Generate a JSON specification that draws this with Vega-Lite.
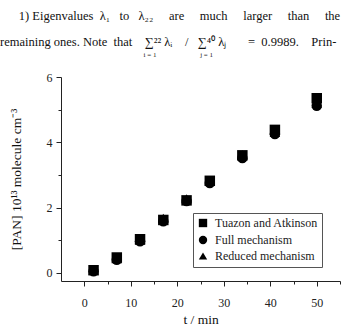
{
  "$schema": "https://vega.github.io/schema/vega-lite/v6.json",
  "width": 279,
  "height": 204,
  "autosize": {"type": "none"},
  "padding": {"left": 61, "top": 77, "right": 4, "bottom": 46},
  "background": "white",
  "title": {
    "text": [
      "\u200b\u00a0\u00a0\u00a0\u00a0\u00a0\u00a01)\u00a0Eigenvalues\u00a0\u00a0λ\u2081\u00a0\u00a0\u00a0to\u00a0\u00a0\u00a0λ\u2082\u2082\u00a0\u00a0\u00a0\u00a0\u00a0are\u00a0\u00a0\u00a0\u00a0\u00a0much\u00a0\u00a0\u00a0\u00a0\u00a0larger\u00a0\u00a0\u00a0\u00a0\u00a0than\u00a0\u00a0\u00a0\u00a0\u00a0the",
      "remaining\u00a0ones.\u00a0Note\u00a0\u00a0that\u00a0\u00a0\u00a0\u00a0∑\u00b2\u00b2\u00a0λ\u1d62\u00a0\u00a0\u00a0\u00a0/\u00a0\u00a0\u00a0∑\u2074\u2070\u00a0λ\u2c7c\u00a0\u00a0\u00a0\u00a0\u00a0\u00a0\u00a0=\u00a0\u00a00.9989.\u00a0\u00a0\u00a0\u00a0Prin-"
    ],
    "subtitle": "\u200b\u2003\u2003\u2003\u2003\u2003\u2003\u2003\u2003\u2003\u2003\u2003\u2003\u2003\u2003\u2003\u2003\u2003\u2003\u2003\u2003\u00a0\u00a0i = 1\u2003\u2003\u2003\u2003\u2003\u2003\u00a0j = 1",
    "anchor": "start",
    "frame": "bounds",
    "font": "Liberation Serif",
    "fontSize": 12.5,
    "fontWeight": "normal",
    "color": "#111",
    "lineHeight": 26,
    "subtitleFont": "Liberation Serif",
    "subtitleFontSize": 7,
    "subtitleLineHeight": 8,
    "subtitlePadding": 3,
    "subtitleColor": "#222",
    "offset": 13,
    "dx": -9
  },
  "data": {
    "values": [
      {"t": 2, "series": "Tuazon and Atkinson", "v": 0.08},
      {"t": 7, "series": "Tuazon and Atkinson", "v": 0.47},
      {"t": 12, "series": "Tuazon and Atkinson", "v": 1.03},
      {"t": 17, "series": "Tuazon and Atkinson", "v": 1.62},
      {"t": 22, "series": "Tuazon and Atkinson", "v": 2.22},
      {"t": 27, "series": "Tuazon and Atkinson", "v": 2.82},
      {"t": 34, "series": "Tuazon and Atkinson", "v": 3.6},
      {"t": 41, "series": "Tuazon and Atkinson", "v": 4.38},
      {"t": 50, "series": "Tuazon and Atkinson", "v": 5.35},
      {"t": 2, "series": "Full mechanism", "v": 0.05},
      {"t": 7, "series": "Full mechanism", "v": 0.4},
      {"t": 12, "series": "Full mechanism", "v": 0.97},
      {"t": 17, "series": "Full mechanism", "v": 1.58},
      {"t": 22, "series": "Full mechanism", "v": 2.2},
      {"t": 27, "series": "Full mechanism", "v": 2.75},
      {"t": 34, "series": "Full mechanism", "v": 3.52},
      {"t": 41, "series": "Full mechanism", "v": 4.25},
      {"t": 50, "series": "Full mechanism", "v": 5.12},
      {"t": 2, "series": "Reduced mechanism", "v": 0.09},
      {"t": 7, "series": "Reduced mechanism", "v": 0.43},
      {"t": 12, "series": "Reduced mechanism", "v": 1.0},
      {"t": 17, "series": "Reduced mechanism", "v": 1.67},
      {"t": 22, "series": "Reduced mechanism", "v": 2.27},
      {"t": 27, "series": "Reduced mechanism", "v": 2.82},
      {"t": 34, "series": "Reduced mechanism", "v": 3.62},
      {"t": 41, "series": "Reduced mechanism", "v": 4.3},
      {"t": 50, "series": "Reduced mechanism", "v": 5.2}
    ]
  },
  "mark": {"type": "point", "filled": true, "opacity": 1, "size": 110, "color": "black"},
  "encoding": {
    "x": {
      "field": "t",
      "type": "quantitative",
      "scale": {"domain": [-5, 55], "nice": false, "zero": false},
      "axis": {
        "title": "t / min",
        "values": [0, 5, 10, 15, 20, 25, 30, 35, 40, 45, 50, 55],
        "labelExpr": "datum.value % 10 == 0 && datum.value <= 50 ? datum.label : ''",
        "tickSize": {"condition": {"test": "datum.value % 10 == 0", "value": 5}, "value": 3},
        "grid": false,
        "domainColor": "#222",
        "tickColor": "#222",
        "labelFont": "Liberation Serif",
        "labelFontSize": 12,
        "labelColor": "#222",
        "labelPadding": 11,
        "titleFont": "Liberation Serif",
        "titleFontSize": 13.5,
        "titleFontWeight": "normal",
        "titleColor": "#111",
        "titlePadding": 4
      }
    },
    "y": {
      "field": "v",
      "type": "quantitative",
      "scale": {"domain": [-0.25, 6], "nice": false, "zero": false},
      "axis": {
        "title": "[PAN] 10\u00b9\u00b3 molecule cm\u207b\u00b3",
        "values": [0, 1, 2, 3, 4, 5, 6],
        "labelExpr": "datum.value % 2 == 0 ? datum.label : ''",
        "tickSize": {"condition": {"test": "datum.value % 2 == 0", "value": 5}, "value": 3},
        "grid": false,
        "domainColor": "#222",
        "tickColor": "#222",
        "labelFont": "Liberation Serif",
        "labelFontSize": 12,
        "labelColor": "#222",
        "labelPadding": 4,
        "titleFont": "Liberation Serif",
        "titleFontSize": 13.5,
        "titleFontWeight": "normal",
        "titleColor": "#111",
        "titlePadding": 23
      }
    },
    "shape": {
      "field": "series",
      "type": "nominal",
      "sort": ["Tuazon and Atkinson", "Full mechanism", "Reduced mechanism"],
      "scale": {
        "domain": ["Tuazon and Atkinson", "Full mechanism", "Reduced mechanism"],
        "range": ["square", "circle", "triangle-up"]
      },
      "legend": {
        "title": null,
        "orient": "none",
        "legendX": 132,
        "legendY": 136,
        "padding": 4,
        "strokeColor": "#555",
        "fillColor": "white",
        "symbolFillColor": "black",
        "symbolStrokeColor": "black",
        "symbolSize": 70,
        "symbolOpacity": 1,
        "rowPadding": 1,
        "labelFont": "Liberation Serif",
        "labelFontSize": 12,
        "labelColor": "#222",
        "labelOffset": 6
      }
    }
  },
  "config": {"view": {"stroke": null}}
}
